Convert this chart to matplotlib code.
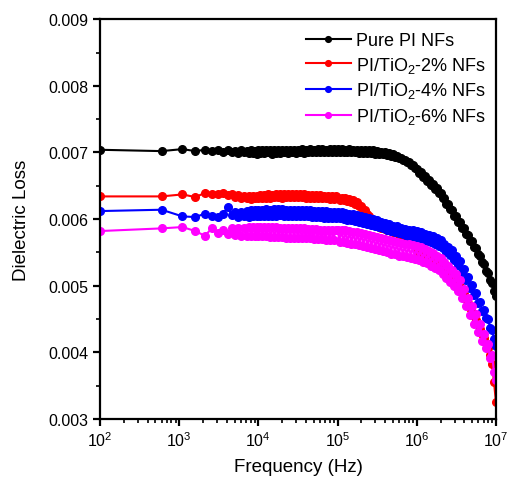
import matplotlib
matplotlib.use("Agg")
import matplotlib.pyplot as plt
from matplotlib.ticker import MultipleLocator, LogLocator, NullFormatter, FormatStrFormatter

plt.rcParams['font.family'] = ['Liberation Sans', 'DejaVu Sans']
plt.rcParams['mathtext.default'] = 'regular'

freq = [100, 600, 1100, 1600, 2100, 2600, 3100, 3600, 4100, 4600,
        5100, 5600, 6100, 6600, 7100, 7600, 8100, 8600, 9100, 9600,
        # 1e4 decade
        1.000e4, 1.059e4, 1.122e4, 1.189e4, 1.259e4, 1.334e4, 1.413e4, 1.496e4, 1.585e4, 1.679e4,
        1.778e4, 1.884e4, 1.995e4, 2.113e4, 2.239e4, 2.371e4, 2.512e4, 2.661e4, 2.818e4, 2.985e4,
        3.162e4, 3.350e4, 3.548e4, 3.758e4, 3.981e4, 4.217e4, 4.467e4, 4.732e4, 5.012e4, 5.309e4,
        5.623e4, 5.957e4, 6.310e4, 6.683e4, 7.079e4, 7.499e4, 7.943e4, 8.414e4, 8.913e4, 9.441e4,
        # 1e5 decade
        1.000e5, 1.059e5, 1.122e5, 1.189e5, 1.259e5, 1.334e5, 1.413e5, 1.496e5, 1.585e5, 1.679e5,
        1.778e5, 1.884e5, 1.995e5, 2.113e5, 2.239e5, 2.371e5, 2.512e5, 2.661e5, 2.818e5, 2.985e5,
        3.162e5, 3.350e5, 3.548e5, 3.758e5, 3.981e5, 4.217e5, 4.467e5, 4.732e5, 5.012e5, 5.309e5,
        5.623e5, 5.957e5, 6.310e5, 6.683e5, 7.079e5, 7.499e5, 7.943e5, 8.414e5, 8.913e5, 9.441e5,
        # 1e6 decade
        1.000e6, 1.059e6, 1.122e6, 1.189e6, 1.259e6, 1.334e6, 1.413e6, 1.496e6, 1.585e6, 1.679e6,
        1.778e6, 1.884e6, 1.995e6, 2.113e6, 2.239e6, 2.371e6, 2.512e6, 2.661e6, 2.818e6, 2.985e6,
        3.162e6, 3.350e6, 3.548e6, 3.758e6, 3.981e6, 4.217e6, 4.467e6, 4.732e6, 5.012e6, 5.309e6,
        5.623e6, 5.957e6, 6.310e6, 6.683e6, 7.079e6, 7.499e6, 7.943e6, 8.414e6, 8.913e6, 9.441e6,
        1.000e7]

loss_pure = [
    7.04e-3, 7.02e-3, 7.05e-3, 7.02e-3, 7.04e-3, 7.02e-3, 7.04e-3, 7.00e-3, 7.03e-3, 7.00e-3,
    7.02e-3, 6.99e-3, 7.03e-3, 7.00e-3, 7.02e-3, 6.99e-3, 7.03e-3, 6.99e-3, 7.02e-3, 6.98e-3,
    7.04e-3, 6.99e-3, 7.03e-3, 6.99e-3, 7.04e-3, 7.00e-3, 7.03e-3, 6.98e-3, 7.04e-3, 6.99e-3,
    7.03e-3, 6.99e-3, 7.04e-3, 7.00e-3, 7.03e-3, 6.99e-3, 7.04e-3, 7.00e-3, 7.04e-3, 6.99e-3,
    7.04e-3, 7.00e-3, 7.05e-3, 6.99e-3, 7.04e-3, 7.00e-3, 7.05e-3, 7.00e-3, 7.04e-3, 7.00e-3,
    7.05e-3, 7.00e-3, 7.05e-3, 7.01e-3, 7.04e-3, 7.00e-3, 7.05e-3, 7.00e-3, 7.05e-3, 7.01e-3,
    7.05e-3, 7.00e-3, 7.05e-3, 7.00e-3, 7.04e-3, 7.00e-3, 7.05e-3, 7.00e-3, 7.04e-3, 7.00e-3,
    7.04e-3, 6.99e-3, 7.04e-3, 6.99e-3, 7.03e-3, 6.99e-3, 7.03e-3, 6.99e-3, 7.03e-3, 6.98e-3,
    7.02e-3, 6.98e-3, 7.01e-3, 6.97e-3, 7.00e-3, 6.96e-3, 6.99e-3, 6.95e-3, 6.97e-3, 6.93e-3,
    6.95e-3, 6.91e-3, 6.92e-3, 6.88e-3, 6.89e-3, 6.85e-3, 6.85e-3, 6.81e-3, 6.81e-3, 6.76e-3,
    6.75e-3, 6.69e-3, 6.70e-3, 6.63e-3, 6.64e-3, 6.57e-3, 6.58e-3, 6.51e-3, 6.52e-3, 6.45e-3,
    6.46e-3, 6.39e-3, 6.39e-3, 6.31e-3, 6.31e-3, 6.23e-3, 6.23e-3, 6.15e-3, 6.14e-3, 6.05e-3,
    6.04e-3, 5.96e-3, 5.95e-3, 5.86e-3, 5.86e-3, 5.77e-3, 5.76e-3, 5.67e-3, 5.67e-3, 5.58e-3,
    5.57e-3, 5.47e-3, 5.45e-3, 5.35e-3, 5.32e-3, 5.22e-3, 5.19e-3, 5.08e-3, 5.04e-3, 4.92e-3,
    4.84e-3]

loss_2 = [
    6.34e-3, 6.34e-3, 6.37e-3, 6.33e-3, 6.39e-3, 6.38e-3, 6.37e-3, 6.39e-3, 6.36e-3, 6.38e-3,
    6.33e-3, 6.36e-3, 6.31e-3, 6.35e-3, 6.31e-3, 6.35e-3, 6.30e-3, 6.34e-3, 6.31e-3, 6.35e-3,
    6.31e-3, 6.36e-3, 6.32e-3, 6.36e-3, 6.32e-3, 6.37e-3, 6.32e-3, 6.36e-3, 6.33e-3, 6.37e-3,
    6.33e-3, 6.37e-3, 6.32e-3, 6.37e-3, 6.33e-3, 6.37e-3, 6.33e-3, 6.38e-3, 6.33e-3, 6.37e-3,
    6.33e-3, 6.37e-3, 6.33e-3, 6.37e-3, 6.32e-3, 6.36e-3, 6.32e-3, 6.36e-3, 6.32e-3, 6.36e-3,
    6.31e-3, 6.36e-3, 6.31e-3, 6.35e-3, 6.31e-3, 6.35e-3, 6.30e-3, 6.34e-3, 6.30e-3, 6.34e-3,
    6.32e-3, 6.29e-3, 6.32e-3, 6.28e-3, 6.31e-3, 6.27e-3, 6.30e-3, 6.25e-3, 6.28e-3, 6.23e-3,
    6.25e-3, 6.19e-3, 6.20e-3, 6.14e-3, 6.13e-3, 6.07e-3, 6.05e-3, 6.00e-3, 5.97e-3, 5.93e-3,
    5.90e-3, 5.88e-3, 5.87e-3, 5.86e-3, 5.85e-3, 5.84e-3, 5.83e-3, 5.82e-3, 5.81e-3, 5.80e-3,
    5.79e-3, 5.78e-3, 5.77e-3, 5.76e-3, 5.75e-3, 5.74e-3, 5.73e-3, 5.72e-3, 5.70e-3, 5.69e-3,
    5.52e-3, 5.51e-3, 5.50e-3, 5.48e-3, 5.47e-3, 5.45e-3, 5.44e-3, 5.42e-3, 5.41e-3, 5.39e-3,
    5.37e-3, 5.35e-3, 5.33e-3, 5.30e-3, 5.27e-3, 5.24e-3, 5.21e-3, 5.18e-3, 5.15e-3, 5.12e-3,
    5.09e-3, 5.04e-3, 5.00e-3, 4.93e-3, 4.87e-3, 4.80e-3, 4.74e-3, 4.67e-3, 4.61e-3, 4.55e-3,
    4.49e-3, 4.42e-3, 4.35e-3, 4.28e-3, 4.21e-3, 4.14e-3, 4.06e-3, 3.96e-3, 3.82e-3, 3.55e-3,
    3.25e-3]

loss_4 = [
    6.12e-3, 6.14e-3, 6.04e-3, 6.03e-3, 6.08e-3, 6.05e-3, 6.03e-3, 6.08e-3, 6.18e-3, 6.06e-3,
    6.10e-3, 6.03e-3, 6.11e-3, 6.04e-3, 6.12e-3, 6.03e-3, 6.13e-3, 6.05e-3, 6.14e-3, 6.04e-3,
    6.14e-3, 6.04e-3, 6.14e-3, 6.05e-3, 6.15e-3, 6.04e-3, 6.14e-3, 6.05e-3, 6.15e-3, 6.05e-3,
    6.15e-3, 6.06e-3, 6.15e-3, 6.05e-3, 6.14e-3, 6.05e-3, 6.14e-3, 6.05e-3, 6.14e-3, 6.04e-3,
    6.14e-3, 6.04e-3, 6.13e-3, 6.04e-3, 6.13e-3, 6.04e-3, 6.13e-3, 6.03e-3, 6.12e-3, 6.03e-3,
    6.12e-3, 6.03e-3, 6.12e-3, 6.02e-3, 6.12e-3, 6.02e-3, 6.11e-3, 6.02e-3, 6.11e-3, 6.01e-3,
    6.11e-3, 6.01e-3, 6.10e-3, 6.00e-3, 6.09e-3, 5.99e-3, 6.08e-3, 5.98e-3, 6.07e-3, 5.97e-3,
    6.06e-3, 5.96e-3, 6.04e-3, 5.94e-3, 6.03e-3, 5.93e-3, 6.01e-3, 5.91e-3, 6.00e-3, 5.90e-3,
    5.98e-3, 5.88e-3, 5.96e-3, 5.86e-3, 5.94e-3, 5.84e-3, 5.92e-3, 5.82e-3, 5.90e-3, 5.80e-3,
    5.89e-3, 5.79e-3, 5.87e-3, 5.77e-3, 5.85e-3, 5.75e-3, 5.84e-3, 5.74e-3, 5.83e-3, 5.73e-3,
    5.82e-3, 5.71e-3, 5.80e-3, 5.69e-3, 5.78e-3, 5.67e-3, 5.76e-3, 5.65e-3, 5.74e-3, 5.62e-3,
    5.71e-3, 5.60e-3, 5.68e-3, 5.56e-3, 5.63e-3, 5.51e-3, 5.58e-3, 5.46e-3, 5.53e-3, 5.39e-3,
    5.45e-3, 5.31e-3, 5.37e-3, 5.21e-3, 5.25e-3, 5.09e-3, 5.13e-3, 4.97e-3, 5.01e-3, 4.86e-3,
    4.89e-3, 4.74e-3, 4.76e-3, 4.62e-3, 4.63e-3, 4.51e-3, 4.50e-3, 4.37e-3, 4.34e-3, 4.20e-3,
    4.10e-3]

loss_6 = [
    5.82e-3, 5.86e-3, 5.88e-3, 5.82e-3, 5.75e-3, 5.86e-3, 5.79e-3, 5.84e-3, 5.77e-3, 5.86e-3,
    5.76e-3, 5.87e-3, 5.75e-3, 5.87e-3, 5.74e-3, 5.88e-3, 5.75e-3, 5.88e-3, 5.74e-3, 5.88e-3,
    5.74e-3, 5.88e-3, 5.74e-3, 5.88e-3, 5.74e-3, 5.88e-3, 5.73e-3, 5.88e-3, 5.73e-3, 5.88e-3,
    5.73e-3, 5.87e-3, 5.73e-3, 5.87e-3, 5.72e-3, 5.87e-3, 5.72e-3, 5.87e-3, 5.72e-3, 5.86e-3,
    5.72e-3, 5.86e-3, 5.71e-3, 5.86e-3, 5.71e-3, 5.85e-3, 5.71e-3, 5.85e-3, 5.70e-3, 5.85e-3,
    5.70e-3, 5.84e-3, 5.70e-3, 5.84e-3, 5.69e-3, 5.84e-3, 5.69e-3, 5.83e-3, 5.69e-3, 5.83e-3,
    5.84e-3, 5.66e-3, 5.84e-3, 5.65e-3, 5.83e-3, 5.64e-3, 5.82e-3, 5.63e-3, 5.81e-3, 5.62e-3,
    5.80e-3, 5.61e-3, 5.79e-3, 5.60e-3, 5.78e-3, 5.58e-3, 5.76e-3, 5.57e-3, 5.75e-3, 5.55e-3,
    5.73e-3, 5.53e-3, 5.72e-3, 5.52e-3, 5.70e-3, 5.50e-3, 5.69e-3, 5.48e-3, 5.67e-3, 5.47e-3,
    5.66e-3, 5.45e-3, 5.64e-3, 5.44e-3, 5.63e-3, 5.43e-3, 5.62e-3, 5.42e-3, 5.61e-3, 5.40e-3,
    5.60e-3, 5.39e-3, 5.58e-3, 5.36e-3, 5.55e-3, 5.34e-3, 5.52e-3, 5.30e-3, 5.49e-3, 5.27e-3,
    5.45e-3, 5.23e-3, 5.41e-3, 5.18e-3, 5.35e-3, 5.12e-3, 5.29e-3, 5.06e-3, 5.23e-3, 5.00e-3,
    5.17e-3, 4.92e-3, 5.08e-3, 4.81e-3, 4.95e-3, 4.69e-3, 4.82e-3, 4.56e-3, 4.69e-3, 4.43e-3,
    4.57e-3, 4.30e-3, 4.43e-3, 4.17e-3, 4.27e-3, 4.06e-3, 4.13e-3, 3.91e-3, 3.96e-3, 3.71e-3,
    3.58e-3]

series = [
    ("Pure PI NFs", loss_pure, "black"),
    ("PI/TiO$_2$-2% NFs", loss_2, "red"),
    ("PI/TiO$_2$-4% NFs", loss_4, "blue"),
    ("PI/TiO$_2$-6% NFs", loss_6, "magenta"),
]

fig = plt.figure(figsize=(5.10, 4.81), dpi=100)
ax = fig.add_axes([0.196, 0.127, 0.7765, 0.831])

for label, vals, col in series:
    ax.plot(freq, vals, color=col, marker='o', markersize=5.5, linewidth=1.5, label=label)

ax.set_xscale('log')
ax.set_xlim(100, 1e7)
ax.set_ylim(0.003, 0.009)
ax.yaxis.set_major_locator(MultipleLocator(0.001))
ax.yaxis.set_minor_locator(MultipleLocator(0.0005))
ax.yaxis.set_major_formatter(FormatStrFormatter('%.3f'))
ax.xaxis.set_major_locator(LogLocator(base=10, numticks=10))
ax.xaxis.set_minor_locator(LogLocator(base=10, subs=range(2, 10), numticks=20))
ax.xaxis.set_minor_formatter(NullFormatter())

for s in ax.spines.values():
    s.set_linewidth(1.6)
ax.tick_params(which='major', direction='out', length=5, width=1.6, labelsize=11.5,
               top=False, right=False)
ax.tick_params(which='minor', direction='out', length=3, width=1.2, top=False, right=False)

ax.set_ylabel('Dielectric Loss', fontsize=13.5, labelpad=13)
ax.set_xlabel('Frequency (Hz)', fontsize=13.5, labelpad=6)

leg = ax.legend(loc='upper right', frameon=False, fontsize=13, handlelength=2.5,
                handletextpad=0.3, labelspacing=0.32, borderaxespad=0.3,
                bbox_to_anchor=(1.008, 1.0), markerscale=0.75)

fig.savefig('out.png', dpi=100)
